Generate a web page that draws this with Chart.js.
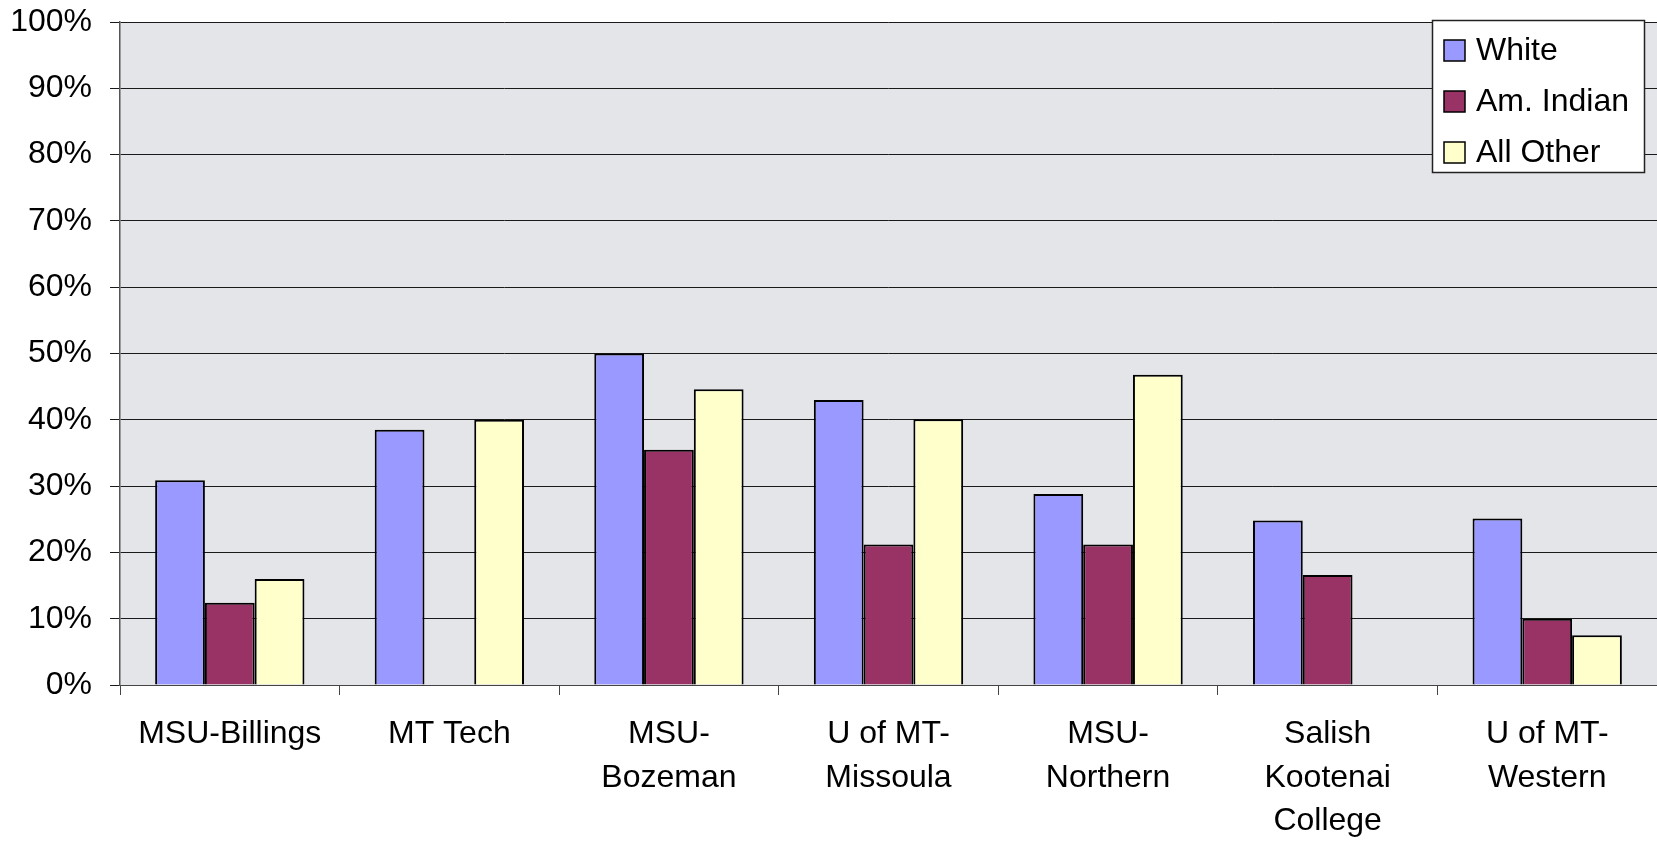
<!DOCTYPE html>
<html>
<head>
<meta charset="utf-8">
<script src="https://cdn.jsdelivr.net/npm/chart.js@4.4.1/dist/chart.umd.min.js"></script>
<style>
    body { margin: 0; background: #fff; }
    #wrap { width: 1657px; height: 844px; }
</style>
</head>
<body>
<div id="wrap"><canvas id="chart" width="1657" height="844"></canvas></div>
<script>
const schools = [
    "MSU-Billings",
    "MT Tech",
    ["MSU-", "Bozeman"],
    ["U of MT-", "Missoula"],
    ["MSU-", "Northern"],
    ["Salish", "Kootenai", "College"],
    ["U of MT-", "Western"]
];
const whiteRates = [30.9, 38.5, 50.0, 43.0, 28.8, 24.8, 25.1];
const indianRates = [12.4, 0, 35.5, 21.2, 21.2, 16.6, 10.0];
const otherRates = [16.0, 40.0, 44.6, 40.1, 46.8, 0, 7.5];
const yTicks = [0, 10, 20, 30, 40, 50, 60, 70, 80, 90, 100];

const font = "'Liberation Sans', Arial, sans-serif";

// marble-ish plot background
const plotBackground = {
    id: "plotBackground",
    beforeDraw(chart) {
        const { ctx, chartArea: a } = chart;
        ctx.save();
        ctx.fillStyle = "#e4e5e8";
        ctx.fillRect(a.left, a.top, a.right - a.left, a.bottom - a.top);
        ctx.restore();
    }
};

// boxed legend floating at top right, like the original
const boxLegend = {
    id: "boxLegend",
    afterDraw(chart) {
        const ctx = chart.ctx;
        const x = 1432, y = 20, w = 212, h = 152;
        ctx.save();
        ctx.fillStyle = "#fff";
        ctx.fillRect(x, y, w, h);
        ctx.strokeStyle = "#222";
        ctx.lineWidth = 1.5;
        ctx.strokeRect(x + 0.5, y + 0.5, w, h);
        ctx.font = "32px " + font;
        ctx.textBaseline = "middle";
        chart.data.datasets.forEach((ds, i) => {
            const cy = y + 30 + i * 51;
            ctx.fillStyle = ds.backgroundColor;
            ctx.fillRect(x + 12, cy - 10, 21, 21);
            ctx.strokeStyle = "#000";
            ctx.lineWidth = 1.5;
            ctx.strokeRect(x + 12, cy - 10, 21, 21);
            ctx.fillStyle = "#000";
            ctx.fillText(ds.label, x + 44, cy + 1);
        });
        ctx.restore();
    }
};

new Chart(document.getElementById("chart"), {
    type: "bar",
    data: {
        labels: schools,
        datasets: [
            { label: "White", data: whiteRates, backgroundColor: "#9999ff" },
            { label: "Am. Indian", data: indianRates, backgroundColor: "#993366" },
            { label: "All Other", data: otherRates, backgroundColor: "#ffffcc" }
        ].map(d => Object.assign(d, {
            borderColor: "#000",
            borderWidth: 2,
            categoryPercentage: 0.68,
            barPercentage: 1.0
        }))
    },
    options: {
        responsive: false,
        animation: false,
        layout: { padding: { top: 22, right: 0, left: 0, bottom: 0 } },
        plugins: {
            legend: { display: false },
            tooltip: { enabled: false }
        },
        scales: {
            x: {
                afterFit: s => {
                    s.height = 159;
                    s.paddingLeft = 0;
                    s.paddingRight = 0;
                },
                grid: {
                    offset: true,
                    drawOnChartArea: false,
                    tickLength: 10,
                    color: "#444"
                },
                border: { color: "#444", width: 1 },
                ticks: {
                    color: "#000",
                    padding: 18,
                    maxRotation: 0,
                    autoSkip: false,
                    font: { family: font, size: 32, lineHeight: 1.35 }
                }
            },
            y: {
                min: 0,
                max: 100,
                afterFit: s => {
                    s.width = 120;
                    s.paddingTop = 0;
                    s.paddingBottom = 0;
                },
                afterBuildTicks: s => { s.ticks = yTicks.map(v => ({ value: v })); },
                grid: {
                    color: "#1a1a1a",
                    lineWidth: 1,
                    tickLength: 10
                },
                border: { color: "#555", width: 1.5 },
                ticks: {
                    color: "#000",
                    padding: 18,
                    callback: v => v + "%",
                    font: { family: font, size: 32 }
                }
            }
        }
    },
    plugins: [plotBackground, boxLegend]
});
</script>
</body>
</html>
